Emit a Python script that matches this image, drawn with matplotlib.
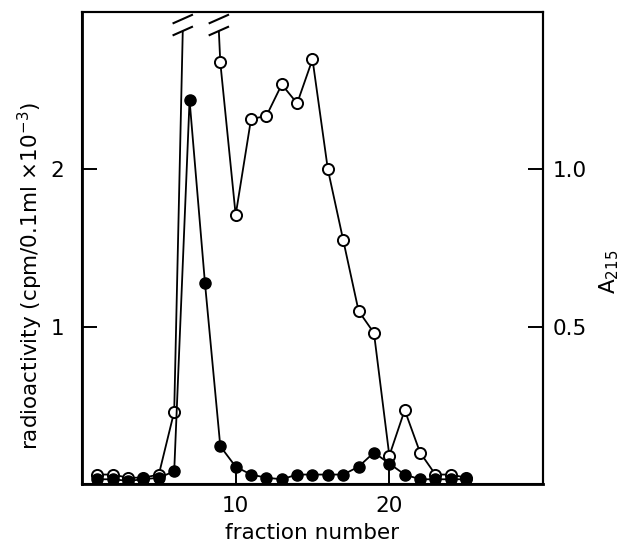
import matplotlib
matplotlib.use("Agg")
import matplotlib.pyplot as plt
import numpy as np
from matplotlib.patches import Rectangle

# fraction numbers
fractions = np.arange(1, 26)

# radioactivity, cpm/0.1 ml x 10^-3 (filled circles, left axis)
radioactivity = [0.03, 0.03, 0.02, 0.03, 0.04, 0.08, 2.44, 1.28, 0.24, 0.11,
                 0.06, 0.04, 0.03, 0.06, 0.06, 0.06, 0.06, 0.11, 0.20, 0.13,
                 0.06, 0.03, 0.03, 0.03, 0.03]

# absorbance at 215 nm (open circles, right axis); 7 and 8 run off scale
a215 = [0.03, 0.03, 0.02, 0.02, 0.03, 0.23, 2.40, 2.40, 1.34, 0.855,
        1.16, 1.17, 1.27, 1.21, 1.35, 1.00, 0.775, 0.55, 0.48, 0.09,
        0.235, 0.10, 0.03, 0.03, 0.02]

x_ticks = [10, 20]
left_ticks = [1, 2]
right_ticks = [0.5, 1.0]
right_tick_labels = ["0.5", "1.0"]
break_level = 1.44  # where the off-scale A215 trace is cut

FS = 15.5

fig = plt.figure(figsize=(6.24, 5.5), dpi=100)
ax = fig.add_axes([0.1314, 0.12, 0.7388, 0.858])
ax2 = ax.twinx()

# open circles: A215
line, = ax2.plot(fractions, a215, "-o", color="black", lw=1.3,
                 markersize=8, markerfacecolor="white",
                 markeredgecolor="black", markeredgewidth=1.4)
clip = Rectangle((0, 0), 30, break_level, transform=ax2.transData)
line.set_clip_path(clip)

# break marks where the trace leaves the scale
y = np.asarray(a215)
for i in range(len(y) - 1):
    if (y[i] - break_level) * (y[i + 1] - break_level) < 0:
        t = (break_level - y[i]) / (y[i + 1] - y[i])
        xc = fractions[i] + t * (fractions[i + 1] - fractions[i])
        for dy in (0.0, 0.038):
            ax2.plot([xc - 0.6, xc + 0.6],
                     [break_level - 0.013 + dy, break_level + 0.013 + dy],
                     color="black", lw=1.5, clip_on=False)

# filled circles: radioactivity
ax.plot(fractions, radioactivity, "-o", color="black", lw=1.3,
        markersize=8, markerfacecolor="black", markeredgecolor="black")

ax.set_zorder(ax2.get_zorder() + 1)
ax.patch.set_visible(False)

ax.set_xlim(0, 30)
ax.set_ylim(0, 3.0)
ax2.set_ylim(0, 1.5)

ax.set_xticks(x_ticks)
ax.set_yticks(left_ticks)
ax2.set_yticks(right_ticks)
ax2.set_yticklabels(right_tick_labels)

ax.tick_params(axis="x", direction="in", length=11, width=1.4,
               labelsize=FS, pad=9)
ax.tick_params(axis="y", direction="in", length=11, width=1.4,
               labelsize=FS, pad=13)
ax2.tick_params(axis="y", direction="in", length=11, width=1.4,
                labelsize=FS, pad=7)

for a in (ax, ax2):
    for s in a.spines.values():
        s.set_linewidth(1.5)
ax.spines["left"].set_linewidth(2.0)
ax.spines["bottom"].set_linewidth(2.0)

ax.set_xlabel("fraction number", fontsize=FS, labelpad=5)
ax.set_ylabel("radioactivity (cpm/0.1ml \u00d710$^{-3}$)", fontsize=FS)
ax.yaxis.set_label_coords(-0.08, 0.44)
ax2.set_ylabel("A$_{215}$", fontsize=FS)
ax2.yaxis.set_label_coords(1.117, 0.45)

fig.savefig("out.png", dpi=100)
